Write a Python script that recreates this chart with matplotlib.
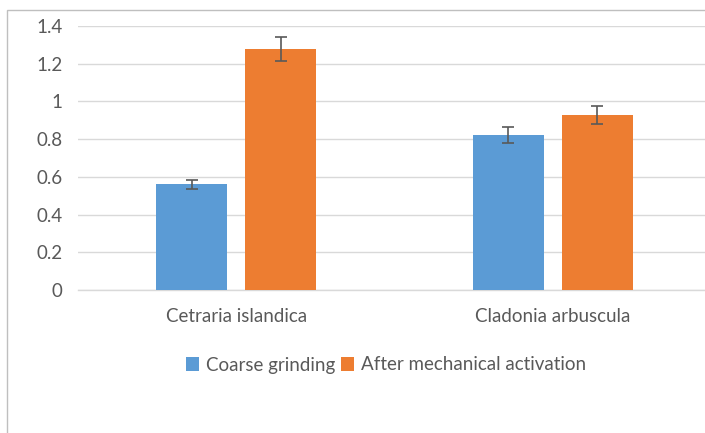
import numpy as np
import matplotlib.pyplot as plt
from matplotlib.patches import Rectangle

# Datos
categorias = ["Cetraria islandica", "Cladonia arbuscula"]
series = ["Coarse grinding", "After mechanical activation"]
valores_gruesa = [0.56, 0.82]
valores_activada = [1.277, 0.93]
error_gruesa = [0.025, 0.043]
error_activada = [0.064, 0.048]
ticks_y = [0, 0.2, 0.4, 0.6, 0.8, 1.0, 1.2, 1.4]
etiquetas_y = ["0", "0.2", "0.4", "0.6", "0.8", "1", "1.2", "1.4"]

plt.rcParams["font.family"] = ["Lato", "DejaVu Sans"]

W, H = 705, 433
fig = plt.figure(figsize=(W / 100, H / 100), dpi=100)

# Marco exterior del gráfico
fig.patches.append(Rectangle((7 / W, -0.1), 1.2, 1.1 - 10 / H, transform=fig.transFigure,
                             fill=False, edgecolor="#bfbfbf", linewidth=1.0))

ax = fig.add_axes([78 / W, 1 - 290 / H, 633 / W, 264 / H])

x = np.arange(len(categorias))
ancho = 0.225
desp = 0.141
gris = "#595959"

ax.bar(x - desp, valores_gruesa, ancho, color="#5B9BD5", label=series[0], zorder=3)
ax.bar(x + desp, valores_activada, ancho, color="#ED7D31", label=series[1], zorder=3)
ax.errorbar(x - desp, valores_gruesa, yerr=error_gruesa, fmt="none", ecolor=gris,
            elinewidth=1.2, capsize=4.5, capthick=1.2, zorder=4)
ax.errorbar(x + desp, valores_activada, yerr=error_activada, fmt="none", ecolor=gris,
            elinewidth=1.2, capsize=4.5, capthick=1.2, zorder=4)

ax.set_xlim(-0.5, 1.5)
ax.set_ylim(0, 1.4)
ax.set_yticks(ticks_y)
ax.set_yticklabels(etiquetas_y)
ax.set_xticks(x)
ax.set_xticklabels(categorias)
ax.tick_params(axis="both", length=0, colors=gris, labelsize=13.5)
ax.tick_params(axis="y", pad=11)
ax.tick_params(axis="x", pad=13)

ax.grid(axis="y", color="#d9d9d9", linewidth=1.0, zorder=0)
for lado in ["top", "right", "left"]:
    ax.spines[lado].set_visible(False)
ax.spines["bottom"].set_color("#d9d9d9")
ax.spines["bottom"].set_linewidth(1.0)

leg = fig.legend(loc="center", bbox_to_anchor=(386 / W, 1 - 365 / H), ncol=2,
                 frameon=False, fontsize=13.5, handlelength=0.7, handleheight=0.7,
                 handletextpad=0.35, columnspacing=0.35)
for t in leg.get_texts():
    t.set_color(gris)

plt.savefig("out.png", dpi=100)
plt.close()
